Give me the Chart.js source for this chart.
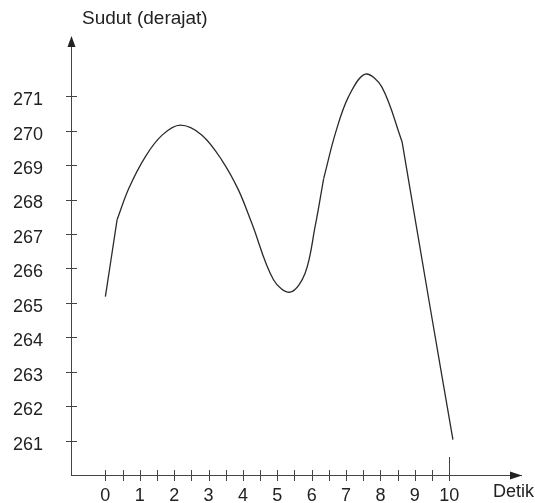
<!DOCTYPE html>
<html>
<head>
<meta charset="utf-8">
<script src="https://cdn.jsdelivr.net/npm/chart.js@4/dist/chart.umd.min.js"></script>
<style>
  body { margin: 0; background: #fff; }
  canvas { display: block; }
</style>
</head>
<body>
<canvas id="chart" width="535" height="503"></canvas>
<script>
// time in seconds (Detik) and angle in degrees (Sudut)
const detik = [0, 0.34, 0.68, 1.16, 1.65, 2.18, 2.81, 3.39, 3.87, 4.26, 4.89, 5.38, 5.81, 6.10, 6.35, 6.69, 7.07, 7.56, 8.04, 8.63, 9.45, 10.11];
const sudut = [265.18, 267.41, 268.32, 269.24, 269.87, 270.16, 269.87, 269.14, 268.28, 267.31, 265.67, 265.31, 265.86, 267.21, 268.61, 269.92, 270.98, 271.64, 271.27, 269.68, 264.85, 261.03];
// indices where the hand-drawn curve has a corner
const corners = [0, 1, 14, 19, 21];

const xTickLabels = [0, 1, 2, 3, 4, 5, 6, 7, 8, 9, 10];
const xHalfTicks = [0.5, 1.5, 2.5, 3.5, 4.5, 5.5, 6.5, 7.5, 8.5, 9.5];
const yTickLabels = [261, 262, 263, 264, 265, 266, 267, 268, 269, 270, 271];

const yTitle = "Sudut (derajat)";
const xTitle = "Detik";

const ink = "#222";
const axisInk = "#444";
const font = "'Liberation Sans', Arial, sans-serif";

const points = detik.map((x, i) => ({ x: x, y: sudut[i] }));
const pieces = [];
for (let k = 0; k < corners.length - 1; k++) {
  pieces.push({
    data: points.slice(corners[k], corners[k + 1] + 1),
    borderColor: "#2a2a2a",
    borderWidth: 1.3,
    pointRadius: 0,
    fill: false,
    tension: 0.35,
  });
}

// crossing tick marks, arrow heads and axis titles
const axisDecor = {
  id: "axisDecor",
  afterDraw(chart) {
    const ctx = chart.ctx;
    const xs = chart.scales.x;
    const ys = chart.scales.y;
    const x0 = xs.left;
    const y0 = ys.bottom;
    ctx.save();
    ctx.strokeStyle = axisInk;
    ctx.lineWidth = 1;
    ctx.beginPath();
    yTickLabels.forEach((v) => {
      const py = Math.round(ys.getPixelForValue(v)) + 0.5;
      ctx.moveTo(x0 - 5, py);
      ctx.lineTo(x0 + 6, py);
    });
    xTickLabels.concat(xHalfTicks).forEach((v) => {
      const px = Math.round(xs.getPixelForValue(v)) + 0.5;
      const top = v === 10 ? y0 - 18 : y0 - 5;
      ctx.moveTo(px, top);
      ctx.lineTo(px, y0 + 6);
    });
    ctx.stroke();

    // arrow heads
    ctx.fillStyle = ink;
    const ax = Math.round(x0) + 0.5;
    ctx.beginPath();
    ctx.moveTo(ax, ys.top - 1);
    ctx.lineTo(ax - 4, ys.top + 10);
    ctx.lineTo(ax + 4, ys.top + 10);
    ctx.closePath();
    ctx.fill();
    const ay = Math.round(y0) + 0.5;
    ctx.beginPath();
    ctx.moveTo(xs.right + 1, ay);
    ctx.lineTo(xs.right - 11, ay - 4);
    ctx.lineTo(xs.right - 11, ay + 4);
    ctx.closePath();
    ctx.fill();

    // axis titles
    ctx.fillStyle = ink;
    ctx.textBaseline = "alphabetic";
    ctx.textAlign = "left";
    ctx.font = "19px " + font;
    ctx.fillText(yTitle, 82, 24);
    ctx.font = "18px " + font;
    ctx.fillText(xTitle, 493, 497);
    ctx.restore();
  },
};

new Chart(document.getElementById("chart"), {
  type: "line",
  data: { datasets: pieces },
  options: {
    responsive: false,
    animation: false,
    events: [],
    layout: { padding: { top: 37, right: 14, left: 0, bottom: 0 } },
    plugins: {
      legend: { display: false },
      tooltip: { enabled: false },
    },
    scales: {
      x: {
        type: "linear",
        min: -1,
        max: 12.09,
        afterBuildTicks: (scale) => {
          scale.ticks = xTickLabels.map((v) => ({ value: v }));
        },
        afterFit: (scale) => {
          scale.height = 28;
          scale.paddingLeft = 0;
          scale.paddingRight = 0;
        },
        grid: { display: false, drawTicks: false },
        border: { display: true, color: axisInk, width: 1 },
        ticks: {
          color: ink,
          font: { family: font, size: 18 },
          padding: 10,
          maxRotation: 0,
          autoSkip: false,
        },
      },
      y: {
        type: "linear",
        min: 260,
        max: 272.72,
        afterBuildTicks: (scale) => {
          scale.ticks = yTickLabels.map((v) => ({ value: v }));
        },
        afterFit: (scale) => {
          scale.width = 71;
          scale.paddingTop = 0;
          scale.paddingBottom = 0;
        },
        grid: { display: false, drawTicks: false },
        border: { display: true, color: axisInk, width: 1 },
        ticks: {
          color: ink,
          font: { family: font, size: 18 },
          padding: 28,
          labelOffset: 4,
          autoSkip: false,
        },
      },
    },
  },
  plugins: [axisDecor],
});
</script>
</body>
</html>
